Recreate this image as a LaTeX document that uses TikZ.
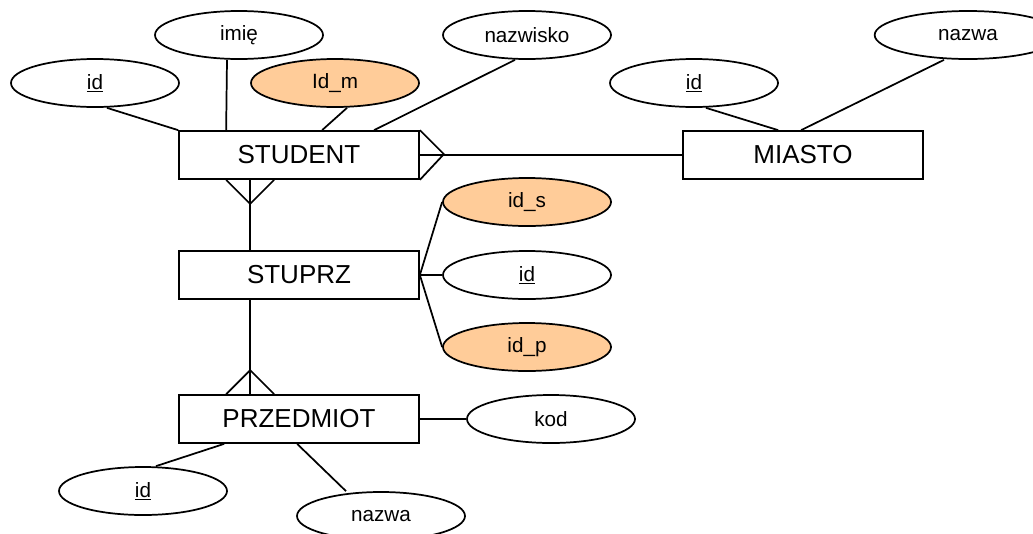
\documentclass[tikz,border=0pt]{standalone}
\usepackage{fontspec}
\setmainfont{Liberation Sans}
\usepackage{xcolor}
\usepackage{tikz}
\usetikzlibrary{shapes.geometric,calc}
\definecolor{peach}{HTML}{FFCC99}
\tikzstyle{entity}=[fill=white, draw=black, shape=rectangle, line width=1.3pt, minimum width=180pt, minimum height=36pt, inner sep=0pt, font=\fontsize{19.5}{22}\selectfont]
\tikzstyle{attr}=[fill=white, draw=black, shape=ellipse, line width=1.3pt, minimum width=126pt, minimum height=36pt, inner sep=0pt, font=\fontsize{15.5}{18}\selectfont]
\tikzstyle{fk attr}=[attr, fill=peach]
\tikzstyle{link}=[line width=1.3pt]
\pgfdeclarelayer{nodelayer}
\pgfdeclarelayer{edgelayer}
\pgfsetlayers{main,nodelayer,edgelayer}

\begin{document}
\begin{tikzpicture}[x=0.75pt, y=-0.75pt]
    	\useasboundingbox (0,0) rectangle (1033,533);
    	\begin{pgfonlayer}{nodelayer}
    		\node [style=entity] (student) at (299, 155) {STUDENT};
    		\node [style=entity] (miasto) at (803, 155) {MIASTO};
    		\node [style=entity] (stuprz) at (299, 275) {STUPRZ};
    		\node [style=entity] (przedmiot) at (299, 419) {PRZEDMIOT};
    		\node [style=attr] (s id) at (95, 83) {\underline{id}};
    		\node [style=attr] (s imie) at (239, 35) {imię};
    		\node [style=fk attr] (s idm) at (335, 83) {Id\_m};
    		\node [style=attr] (s nazwisko) at (527, 35) {nazwisko};
    		\node [style=attr] (m id) at (694, 83) {\underline{id}};
    		\node [style=attr, minimum width=140pt] (m nazwa) at (968, 35) {nazwa};
    		\node [style=fk attr] (sp ids) at (527, 202) {id\_s};
    		\node [style=attr] (sp id) at (527, 275) {\underline{id}};
    		\node [style=fk attr] (sp idp) at (527, 347) {id\_p};
    		\node [style=attr] (p kod) at (551, 419) {kod};
    		\node [style=attr] (p id) at (143, 491) {\underline{id}};
    		\node [style=attr] (p nazwa) at (381, 516) {nazwa};
    	\end{pgfonlayer}
    	\begin{pgfonlayer}{edgelayer}
    		% atrybuty
    		\draw [style=link] ($(s id.south)+(12,0)$) to (student.north west);
    		\draw [style=link] ($(s imie.south)+(-12,0)$) to ($(student.north west)+(48,0)$);
    		\draw [style=link] ($(s idm.south)+(12,0)$) to ($(student.north west)+(144,0)$);
    		\draw [style=link] ($(student.north west)+(196,0)$) to ($(s nazwisko.south)+(-12,0)$);
    		\draw [style=link] ($(m id.south)+(12,0)$) to ($(miasto.north west)+(96,0)$);
    		\draw [style=link] ($(miasto.north west)+(119,0)$) to ($(m nazwa.south)+(-24,0)$);
    		\draw [style=link] (stuprz.east) to (sp ids.west);
    		\draw [style=link] (stuprz.east) to (sp id.west);
    		\draw [style=link] (stuprz.east) to (sp idp.west);
    		\draw [style=link] (przedmiot.east) to (p kod.west);
    		\draw [style=link] ($(przedmiot.south west)+(46,0)$) to ($(p id.north)+(13,0)$);
    		\draw [style=link] ($(przedmiot.south west)+(119,0)$) to ($(p nazwa.north)+(-35,0)$);
    		% zwiazki
    		\draw [style=link] (student.east) to (miasto.west);
    		\draw [style=link] (student.north east) -- ++(24,24) -- (student.south east);
    		\draw [style=link] ($(student.south west)+(72,0)$) to ($(stuprz.north west)+(72,0)$);
    		\draw [style=link] ($(student.south west)+(48,0)$) -- ++(24,24) -- ++(24,-24);
    		\draw [style=link] ($(stuprz.south west)+(72,0)$) to ($(przedmiot.north west)+(72,0)$);
    		\draw [style=link] ($(przedmiot.north west)+(48,0)$) -- ++(24,-24) -- ++(24,24);
    	\end{pgfonlayer}
    \end{tikzpicture}
\end{document}
